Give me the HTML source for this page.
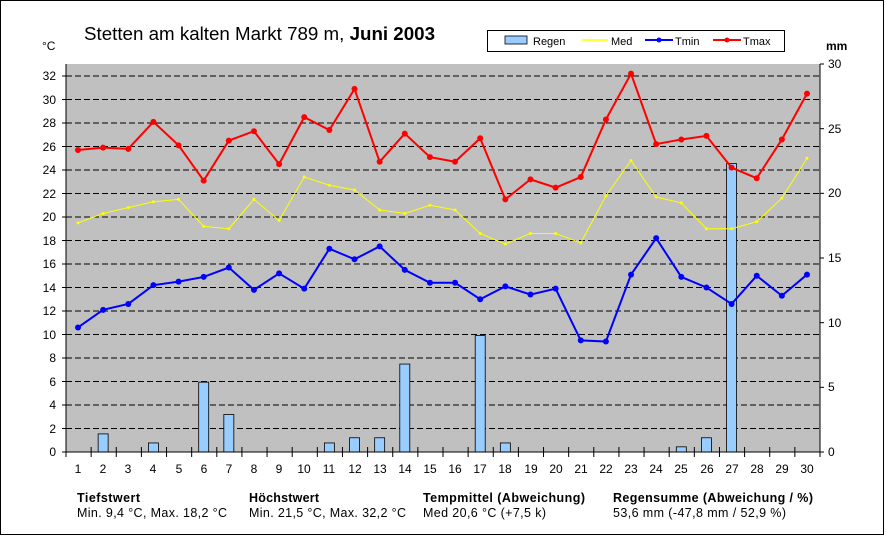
<!DOCTYPE html>
<html><head><meta charset="utf-8"><style>
body{margin:0;background:#fff}
svg{display:block;font-family:"Liberation Sans",Arial,sans-serif}
</style></head><body>
<svg id="s" width="886" height="536" xmlns="http://www.w3.org/2000/svg">
<rect x="0.5" y="0.5" width="883" height="534" fill="#fff" stroke="#000"/>
<rect x="66" y="64" width="754" height="388" fill="#c0c0c0"/>
<g id="grid"></g>
<g id="bars"></g>
<g id="lines"></g>
<line x1="66" y1="64" x2="66" y2="452" stroke="#000"/>
<line x1="820" y1="64" x2="820" y2="452" stroke="#000"/>
<line x1="66" y1="452" x2="820" y2="452" stroke="#000"/>
<g id="ticks" stroke="#000"></g>
<text x="84" y="40" font-size="18" textLength="351" lengthAdjust="spacingAndGlyphs">Stetten am kalten Markt  789 m, <tspan font-weight="bold">Juni 2003</tspan></text>
<text x="42" y="50" font-size="12">°C</text>
<text x="826" y="50" font-size="12" font-weight="bold">mm</text>
<rect x="487.5" y="30.5" width="297" height="21" fill="#fff" stroke="#000"/>
<rect x="505" y="36" width="22" height="8" fill="#99ccff" stroke="#000" stroke-width="0.8"/>
<text x="533" y="45" font-size="11">Regen</text>
<line x1="582" y1="40" x2="608" y2="40" stroke="#ffff00" stroke-width="1.5"/><text x="611" y="45" font-size="11">Med</text>
<line x1="645" y1="40" x2="673" y2="40" stroke="#0000ff" stroke-width="2"/><circle cx="659" cy="40" r="2.5" fill="#0000ff"/><text x="675" y="45" font-size="11">Tmin</text>
<line x1="713" y1="40" x2="741" y2="40" stroke="#ff0000" stroke-width="2"/><circle cx="727" cy="40" r="2.5" fill="#ff0000"/><text x="743" y="45" font-size="11">Tmax</text>
<g font-size="12" text-anchor="end">
<text x="56" y="456">0</text><text x="56" y="433">2</text><text x="56" y="409">4</text><text x="56" y="386">6</text><text x="56" y="362">8</text><text x="56" y="339">10</text><text x="56" y="315">12</text><text x="56" y="292">14</text><text x="56" y="268">16</text><text x="56" y="245">18</text><text x="56" y="221">20</text><text x="56" y="198">22</text><text x="56" y="174">24</text><text x="56" y="151">26</text><text x="56" y="127">28</text><text x="56" y="104">30</text><text x="56" y="80">32</text>
</g>
<g font-size="12">
<text x="828" y="456">0</text><text x="828" y="391">5</text><text x="828" y="327">10</text><text x="828" y="262">15</text><text x="828" y="197">20</text><text x="828" y="133">25</text><text x="828" y="68">30</text>
</g>
<g font-size="12" text-anchor="middle">
<text x="78" y="473">1</text><text x="103" y="473">2</text><text x="128" y="473">3</text><text x="153" y="473">4</text><text x="179" y="473">5</text><text x="204" y="473">6</text><text x="229" y="473">7</text><text x="254" y="473">8</text><text x="279" y="473">9</text><text x="304" y="473">10</text><text x="329" y="473">11</text><text x="355" y="473">12</text><text x="380" y="473">13</text><text x="405" y="473">14</text><text x="430" y="473">15</text><text x="455" y="473">16</text><text x="480" y="473">17</text><text x="505" y="473">18</text><text x="531" y="473">19</text><text x="556" y="473">20</text><text x="581" y="473">21</text><text x="606" y="473">22</text><text x="631" y="473">23</text><text x="656" y="473">24</text><text x="681" y="473">25</text><text x="707" y="473">26</text><text x="732" y="473">27</text><text x="757" y="473">28</text><text x="782" y="473">29</text><text x="807" y="473">30</text>
</g>
<g font-size="12.5">
<text x="77" y="502" font-weight="bold" textLength="63">Tiefstwert</text><text x="77" y="517" textLength="150">Min. 9,4 °C, Max. 18,2 °C</text>
<text x="249" y="502" font-weight="bold" textLength="70">Höchstwert</text><text x="249" y="517" textLength="157">Min. 21,5 °C, Max. 32,2 °C</text>
<text x="423" y="502" font-weight="bold" textLength="162">Tempmittel (Abweichung)</text><text x="423" y="517" textLength="123">Med 20,6 °C (+7,5 k)</text>
<text x="613" y="502" font-weight="bold" textLength="200">Regensumme (Abweichung / %)</text><text x="613" y="517" textLength="173">53,6 mm (-47,8 mm / 52,9 %)</text>
</g>
</svg>
<script>
const NS="http://www.w3.org/2000/svg";
function el(p,t,a){const e=document.createElementNS(NS,t);for(const k in a)e.setAttribute(k,a[k]);document.getElementById(p).appendChild(e);return e;}
const X=i=>78+(i-1)*25.138, YT=v=>452-v*11.75, YR=v=>452-v*12.933;
for(let v=2;v<=32;v+=2)el('grid','line',{x1:66,x2:820,y1:YT(v),y2:YT(v),stroke:'#000','stroke-dasharray':'6,3'});
for(let v=0;v<=32;v+=2)el('ticks','line',{x1:62,x2:66,y1:YT(v),y2:YT(v)});
for(let v=0;v<=30;v+=5)el('ticks','line',{x1:820,x2:824,y1:YR(v),y2:YR(v)});
for(let i=0;i<=30;i++){const x=66+i*25.133;el('ticks','line',{x1:x,x2:x,y1:447,y2:457});}
const rain={2:1.4,4:0.7,6:5.4,7:2.9,11:0.7,12:1.1,13:1.1,14:6.8,17:9.0,18:0.7,25:0.4,26:1.1,27:22.3};
for(const d in rain)el('bars','rect',{x:X(+d)-5,y:YR(rain[d]),width:10,height:rain[d]*12.933,fill:'#99ccff',stroke:'#000','stroke-width':0.8});
const tmax=[25.7,25.9,25.8,28.1,26.1,23.1,26.5,27.3,24.5,28.5,27.4,30.9,24.7,27.1,25.1,24.7,26.7,21.5,23.2,22.5,23.4,28.3,32.2,26.2,26.6,26.9,24.2,23.3,26.6,30.5];
const tmin=[10.6,12.1,12.6,14.2,14.5,14.9,15.7,13.8,15.2,13.9,17.3,16.4,17.5,15.5,14.4,14.4,13.0,14.1,13.4,13.9,9.5,9.4,15.1,18.2,14.9,14.0,12.6,15.0,13.3,15.1];
const med=[19.5,20.3,20.8,21.3,21.5,19.2,19.0,21.5,19.7,23.4,22.7,22.3,20.6,20.3,21.0,20.6,18.6,17.7,18.6,18.6,17.8,21.8,24.8,21.7,21.2,19.0,19.0,19.6,21.6,25.0];
function series(d,c,w,r){el('lines','polyline',{points:d.map((v,i)=>X(i+1)+','+YT(v)).join(' '),fill:'none',stroke:c,'stroke-width':w});
 d.forEach((v,i)=>el('lines','circle',{cx:X(i+1),cy:YT(v),r:r,fill:c}));}
series(med,'#ffff00',1,1.5);series(tmin,'#0000ff',2,3);series(tmax,'#ff0000',2,3);
</script>
</body></html>
